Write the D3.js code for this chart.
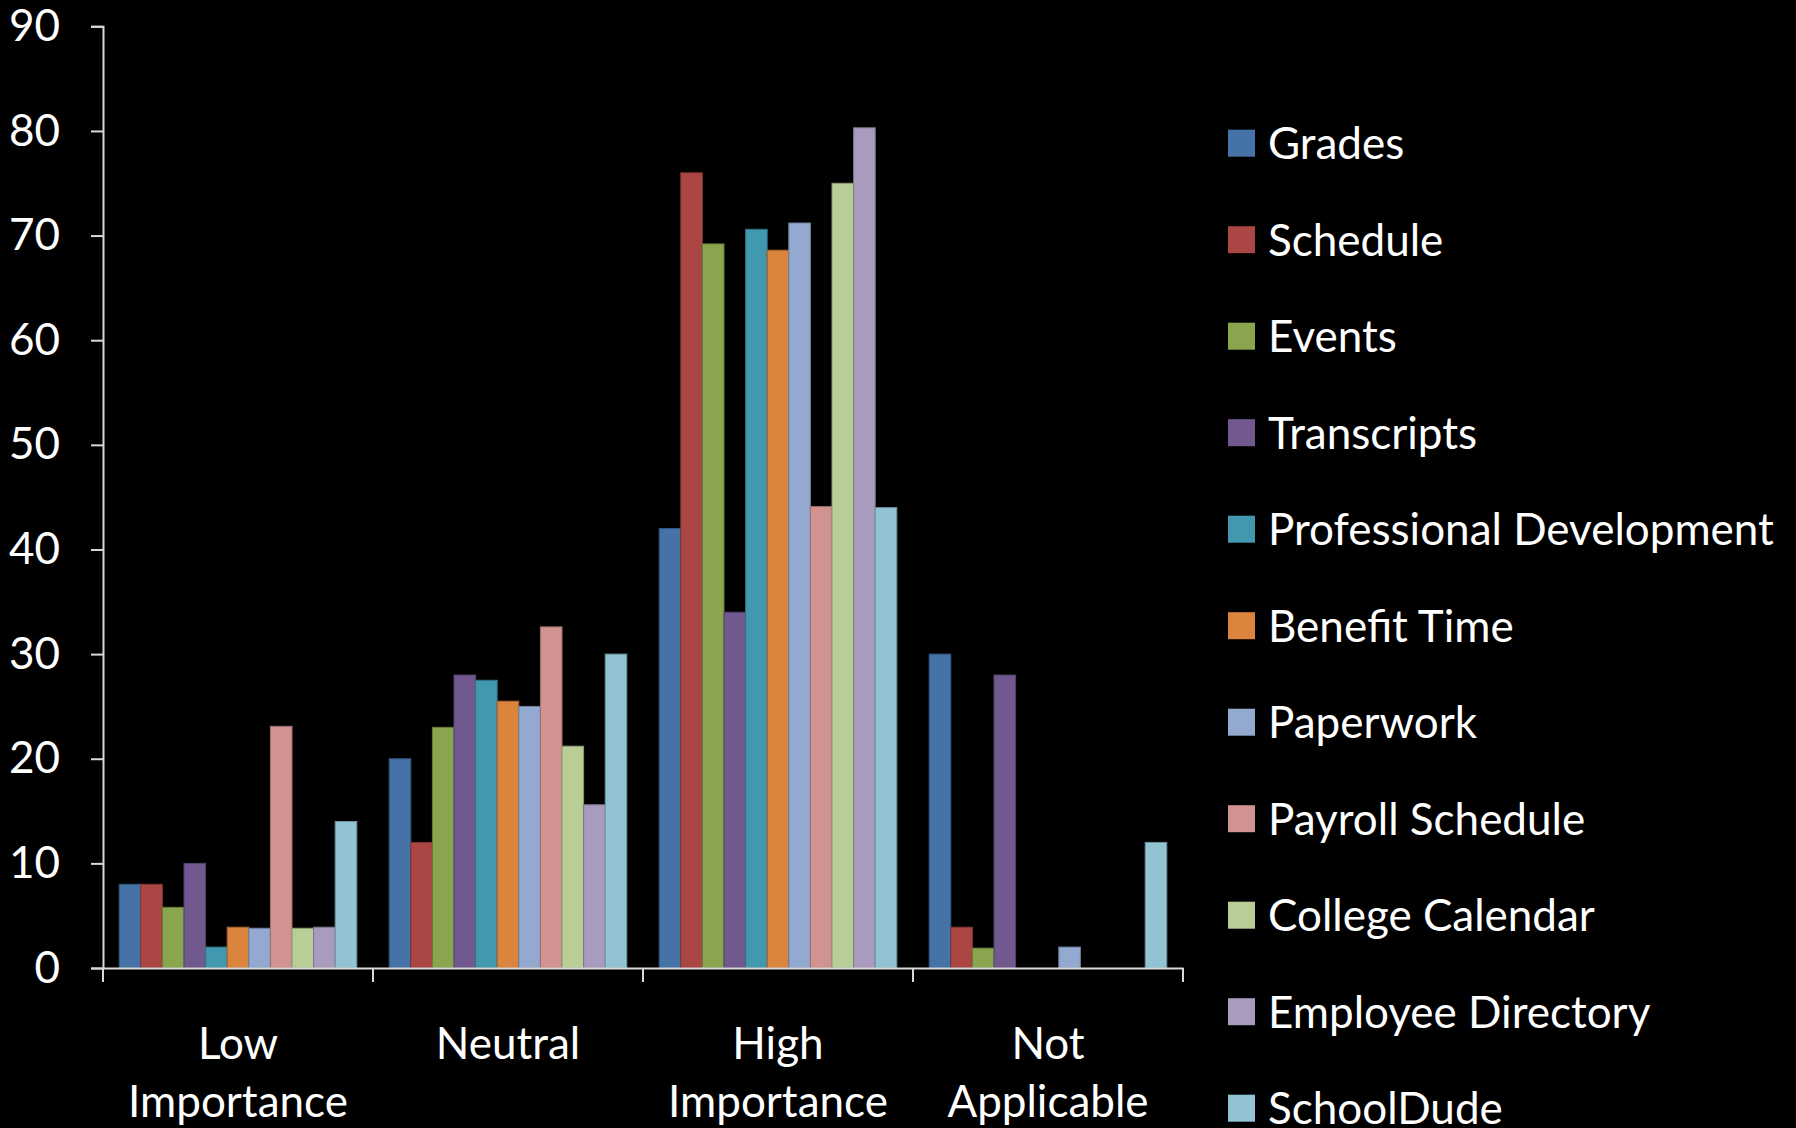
<!DOCTYPE html>
<html>
<head>
<meta charset="utf-8">
<script src="https://cdn.jsdelivr.net/npm/d3@7"></script>
<style>
  html, body { margin: 0; padding: 0; background: #000; }
  svg { display: block; }
  text { font-family: Lato, "Open Sans", sans-serif; fill: #ffffff; }
</style>
</head>
<body>
<svg id="chart" width="1796" height="1128"></svg>
<script>
// ---- Data ----
const categories = ["Low Importance", "Neutral", "High Importance", "Not Applicable"];
const categoryLines = [["Low", "Importance"], ["Neutral"], ["High", "Importance"], ["Not", "Applicable"]];
const seriesNames = ["Grades", "Schedule", "Events", "Transcripts", "Professional Development",
  "Benefit Time", "Paperwork", "Payroll Schedule", "College Calendar", "Employee Directory", "SchoolDude"];
const seriesColors = ["#4572A7", "#AA4643", "#89A54E", "#71588F", "#4198AF",
  "#DB843D", "#93A9CF", "#D19392", "#B9CD96", "#A99BBD", "#92C3D4"];
const grades        = [8,    20,   42,   30];
const schedule      = [8,    12,   76,   3.9];
const events        = [5.8,  23,   69.2, 1.9];
const transcripts   = [10,   28,   34,   28];
const profDev       = [2,    27.5, 70.6, 0];
const benefitTime   = [3.9,  25.5, 68.6, 0];
const paperwork     = [3.8,  25,   71.2, 2];
const payroll       = [23.1, 32.6, 44.1, 0];
const collegeCal    = [3.8,  21.2, 75,   0];
const employeeDir   = [3.9,  15.6, 80.3, 0];
const schoolDude    = [14,   30,   44,   12];
const seriesValues = [grades, schedule, events, transcripts, profDev, benefitTime,
  paperwork, payroll, collegeCal, employeeDir, schoolDude];
const yTicks = [0, 10, 20, 30, 40, 50, 60, 70, 80, 90];

// ---- Layout ----
const svg = d3.select("#chart");
const plot = { left: 103, right: 1183, top: 26.3, bottom: 968 };
const fontSize = 44;

const x0 = d3.scaleBand().domain(categories).range([plot.left, plot.right]).paddingInner(0).paddingOuter(0);
const x1 = d3.scaleBand().domain(seriesNames).range([0, x0.bandwidth()]).paddingInner(0).paddingOuter(0.75);
const y = d3.scaleLinear().domain([0, 90]).range([plot.bottom, plot.top]);
const color = d3.scaleOrdinal().domain(seriesNames).range(seriesColors);

// Bars
const data = [];
categories.forEach((c, ci) => {
  seriesNames.forEach((s, si) => {
    data.push({ cat: c, series: s, value: seriesValues[si][ci] });
  });
});
svg.append("g").selectAll("rect").data(data.filter(d => d.value > 0)).join("rect")
  .attr("x", d => x0(d.cat) + x1(d.series))
  .attr("y", d => y(d.value))
  .attr("width", x1.bandwidth())
  .attr("height", d => y(0) - y(d.value))
  .attr("fill", d => color(d.series))
  .attr("stroke", d => d3.color(color(d.series)).darker(0.8))
  .attr("stroke-width", 1);

// Y axis
const yAxis = d3.axisLeft(y).tickValues(yTicks).tickSize(12).tickPadding(43 - 12).tickFormat(d3.format("d"));
const gy = svg.append("g").attr("transform", `translate(${plot.left},0)`).call(yAxis);
gy.select(".domain").attr("stroke", "#d9d9d9").attr("stroke-width", 2);
gy.selectAll(".tick line").attr("stroke", "#d9d9d9").attr("stroke-width", 2);
gy.selectAll(".tick text").attr("fill", "#fff").style("font-size", fontSize + "px")
  .style("font-family", "Lato, 'Open Sans', sans-serif");

// X axis
const xAxis = d3.axisBottom(x0).tickSize(0).tickFormat("");
const gx = svg.append("g").attr("transform", `translate(0,${plot.bottom})`).call(xAxis);
gx.select(".domain").attr("stroke", "#d9d9d9").attr("stroke-width", 2);
// category boundary ticks
const boundaries = categories.map(c => x0(c)).concat([plot.right]);
gx.selectAll("line.bound").data(boundaries).join("line")
  .attr("class", "bound")
  .attr("x1", d => d).attr("x2", d => d)
  .attr("y1", 0).attr("y2", 14)
  .attr("stroke", "#d9d9d9").attr("stroke-width", 2);

// Category labels
const catLabels = svg.append("g");
categories.forEach((c, ci) => {
  const t = catLabels.append("text")
    .attr("x", x0(c) + x0.bandwidth() / 2)
    .attr("y", 1059)
    .attr("text-anchor", "middle")
    .style("font-size", fontSize + "px");
  categoryLines[ci].forEach((line, li) => {
    t.append("tspan").attr("x", x0(c) + x0.bandwidth() / 2).attr("y", 1059 + li * 58).text(line);
  });
});

// Legend
const legend = svg.append("g");
const legY0 = 143.2, legStep = 96.5;
seriesNames.forEach((s, i) => {
  const g = legend.append("g").attr("transform", `translate(1228,${legY0 + i * legStep})`);
  g.append("rect").attr("x", 0).attr("y", -13.5).attr("width", 27).attr("height", 27).attr("fill", color(s));
  g.append("text").attr("x", 40).attr("y", 0).attr("dy", "0.36em")
    .style("font-size", fontSize + "px").text(s);
});
</script>
</body>
</html>
